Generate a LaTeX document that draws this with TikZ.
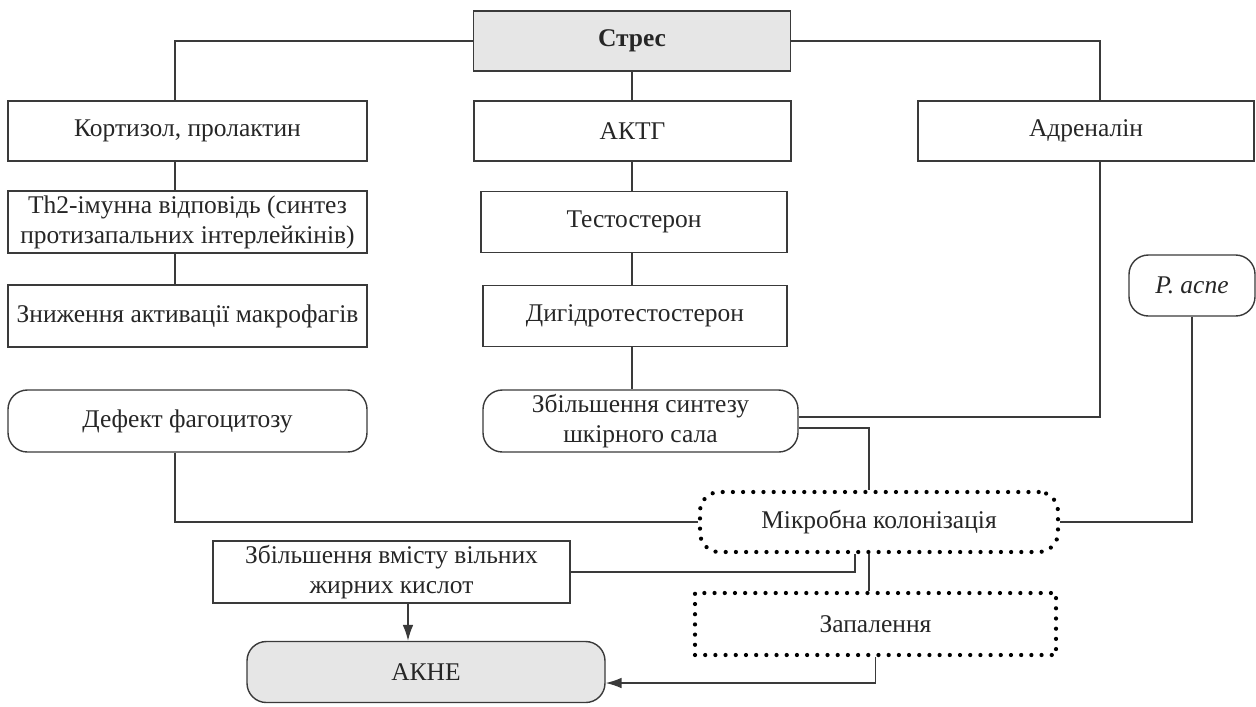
\documentclass[tikz,border=0pt]{standalone}
\usepackage{fontspec}
\setmainfont{Liberation Serif}
\usetikzlibrary{arrows.meta,calc}
\definecolor{boxgray}{HTML}{E6E6E6}
\definecolor{linegray}{HTML}{3A3A3A}
\newcommand\acnefont{\fontsize{14.5}{17}\selectfont}
\tikzset{
 acne box/.style={draw=linegray,line width=.8pt,align=center,inner sep=2pt,
                  text=black!85,font=\acnefont},
 acne round/.style={acne box,rounded corners=11pt},
 acne dotted/.style={acne box,draw=black,line width=2.4pt,line cap=round,
                     dash pattern=on 0pt off 5.8pt},
 acne size/.style 2 args={minimum width=#1*0.2mm,minimum height=#2*0.2mm},
 acne link/.style={draw=linegray,line width=.75pt},
 acne arrow/.style={acne link,-{Latex[length=9pt,width=6pt]}}
}

\begin{document}
\begin{tikzpicture}[x=0.2mm,y=-0.2mm]
 \useasboundingbox (0,0) rectangle (1256,706);
 % columns of the connectors
 \coordinate (colL) at (175,0);
 \coordinate (colM) at (632,0);
 \coordinate (colR) at (1100,0);
 \coordinate (colJ) at (855,0);
 \coordinate (colK) at (869,0);
 \coordinate (colA) at (408,0);
 % top
 \node[acne box,fill=boxgray,acne size={317}{60},font=\acnefont\bfseries]
   (stres) at (632,41) {Стрес};
 % left branch
 \node[acne box,acne size={359}{60}] (kort) at (187.5,131) {Кортизол, пролактин};
 \node[acne box,acne size={359}{62}] (th2) at (187.5,222)
   {Th2-імунна відповідь (синтез\\протизапальних інтерлейкінів)};
 \node[acne box,acne size={359}{62}] (znyzh) at (187.5,316)
   {Зниження активації макрофагів};
 \node[acne round,acne size={359}{62}] (defekt) at (187.5,421) {Дефект фагоцитозу};
 % middle branch
 \node[acne box,acne size={317}{60}] (aktg) at (632.5,131) {АКТГ};
 \node[acne box,acne size={306}{61}] (testo) at (634,222) {Тестостерон};
 \node[acne box,acne size={304}{61}] (dht) at (635,316) {Дигідротестостерон};
 \node[acne round,acne size={315}{62}] (sebum) at (640.5,421)
   {Збільшення синтезу\\шкірного сала};
 % right branch
 \node[acne box,acne size={336}{60}] (adren) at (1086,131) {Адреналін};
 \node[acne round,acne size={126}{61}] (pacne) at (1192,285.5) {\itshape P. acne};
 % bottom
 \node[acne dotted,rounded corners=11pt,acne size={358}{60}] (mikro) at (879,522)
   {Мікробна колонізація};
 \node[acne box,acne size={357}{62}] (zhk) at (391.5,572)
   {Збільшення вмісту вільних\\жирних кислот};
 \node[acne dotted,acne size={361}{62}] (zapal) at (875.5,624) {Запалення};
 \node[acne round,fill=boxgray,acne size={358}{61}] (akne) at (426,672) {АКНЕ};

 % connectors
 \draw[acne link] (stres.west) -| (colL |- kort.north);
 \draw[acne link] (stres.east) -| (colR |- adren.north);
 \draw[acne link] (stres.south) -- (colM |- aktg.north);
 \foreach \a/\b in {kort/th2,th2/znyzh}
   \draw[acne link] (colL |- \a.south) -- (colL |- \b.north);
 \foreach \a/\b in {aktg/testo,testo/dht,dht/sebum}
   \draw[acne link] (colM |- \a.south) -- (colM |- \b.north);
 \draw[acne link] (colR |- adren.south) |- ($(sebum.east)+(0,-4)$);
 \draw[acne link] ($(sebum.east)+(0,7)$) -| (colK |- mikro.north);
 \draw[acne link] (pacne.south) |- (mikro.east);
 \draw[acne link] (colL |- defekt.south) |- (mikro.west);
 \draw[acne link] (colJ |- mikro.south) |- (zhk.east);
 \draw[acne link] (colK |- mikro.south) -- (colK |- zapal.north);
 \draw[acne arrow] (colA |- zhk.south) -- (colA |- akne.north);
 \draw[acne arrow] (zapal.south) |- ($(akne.east)+(0,11)$);
\end{tikzpicture}
\end{document}
